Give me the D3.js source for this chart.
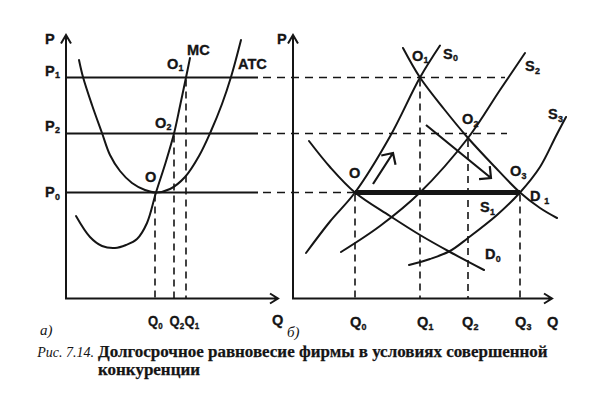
<!DOCTYPE html>
<html><head><meta charset="utf-8">
<script src="https://cdn.jsdelivr.net/npm/d3@7"></script>
<style>body{margin:0;background:#fff}svg{display:block}</style>
</head><body>
<svg id="c" width="600" height="406"></svg>
<script>
// ---------- DATA (arbitrary units) ----------
// price levels shared by both panels: P0, P2, P1
const priceLevels = [10.6, 16.5, 22.1];
const priceSubs   = ["0", "2", "1"];
// left panel (firm): quantities Q0, Q2, Q1 and the price each dashed line rises to
const firmQ      = [8.9, 10.8, 12.0];
const firmQSubs  = ["0", "2", "1"];
const firmQTop   = [10.6, 16.5, 22.1];
// MC curve
const mcQ = [1.0, 2.4, 3.6, 4.9, 6.0, 7.1, 8.1, 9.0, 9.95, 10.8, 11.4, 12.0, 12.4];
const mcP = [8.25, 6.15, 5.25, 5.05, 5.35, 5.95, 7.55, 10.6, 13.55, 16.5, 19.25, 22.1, 24.05];
// ATC curve
const atcQ = [1.3, 1.7, 2.6, 3.6, 4.4, 5.4, 6.6, 7.9, 9.0, 10.4, 11.9, 13.3, 14.5, 15.6, 16.5, 17.5];
const atcP = [23.85, 22.15, 19.35, 16.55, 14.35, 12.75, 11.55, 10.85, 10.6, 10.95, 12.15, 14.25, 16.75, 19.45, 22.15, 25.85];
// right panel (market): Q0, Q1, Q2, Q3 and the price each dashed line rises to
const marketQ     = [6.2, 12.7, 17.5, 22.7];
const marketQSubs = ["0", "1", "2", "3"];
const marketQTop  = [10.6, 22.1, 16.05, 10.6];
// where the dashed price lines end in the market panel (P0, P2, P1)
const priceDashEnd = [6.2, 21.4, 21.2];
// demand curves
const d0Q = [1.6, 3.7, 6.2, 9.7, 12.7, 15.7, 19.1];
const d0P = [15.75, 13.15, 10.6, 8.25, 6.35, 4.65, 2.85];
const d1Q = [11.0, 12.7, 15.1, 17.5, 20.1, 22.7, 24.7, 26.4];
const d1P = [25.05, 22.1, 18.95, 16.05, 13.25, 10.6, 9.05, 8.05];
// supply curves
const s0Q = [1.3, 3.7, 6.2, 9.7, 12.7, 14.7];
const s0P = [4.55, 7.7, 10.6, 16.2, 22.1, 25.3];
const s2Q = [4.8, 8.7, 12.7, 17.5, 20.7, 23.2];
const s2P = [4.65, 7.25, 10.6, 16.05, 20.85, 24.55];
const s3Q = [11.6, 13.7, 15.7, 17.5, 20.4, 22.7, 24.7, 26.3, 27.3];
const s3P = [3.35, 3.95, 4.75, 6.05, 8.35, 10.6, 13.15, 16.25, 18.15];
// long-run supply S1 (horizontal)
const lrsQ = [6.2, 22.7];
const lrsP = [10.6, 10.6];
// arrows (tail -> tip)
const arrowFromQ = [8.0, 13.3];
const arrowFromP = [11.45, 17.35];
const arrowToQ   = [10.0, 19.8];
const arrowToP   = [14.55, 12.05];

// ---------- SCALES ----------
const ink = "#151515";
const svg = d3.select("#c");
const yS = d3.scaleLinear().domain([0, 26.3]).range([298.5, 35.5]);
const xL = d3.scaleLinear().domain([0, 21.2]).range([66, 278]);
const xR = d3.scaleLinear().domain([0, 25.9]).range([293, 552]);

const sans = "'Liberation Sans', Arial, Helvetica, sans-serif";
const serif = "'Liberation Serif', 'DejaVu Serif', serif";

function zip(a, b) { return a.map((v, i) => [v, b[i]]); }
function curve(xs, data, w) {
  const line = d3.line().x(d => xs(d[0])).y(d => yS(d[1])).curve(d3.curveCatmullRom.alpha(0.5));
  svg.append("path").attr("d", line(data)).attr("fill", "none")
    .attr("stroke", ink).attr("stroke-width", w || 2).attr("stroke-linecap", "round");
}
function seg(x1, y1, x2, y2, w, dash) {
  const l = svg.append("line").attr("x1", x1).attr("y1", y1).attr("x2", x2).attr("y2", y2)
    .attr("stroke", ink).attr("stroke-width", w);
  if (dash) l.attr("stroke-dasharray", dash);
  return l;
}
function label(x, y, main, sub, opt) {
  opt = opt || {};
  const t = svg.append("text")
    .attr("transform", `translate(${x},${y}) scale(${opt.sx || 0.94},1)`)
    .style("font-family", sans).style("font-weight", "bold").style("font-size", (opt.fs || 15.5) + "px")
    .style("fill", ink).style("stroke", ink).style("stroke-width", 0.35);
  t.append("tspan").text(main);
  if (sub) t.append("tspan").attr("dx", opt.subdx || 0.3).attr("dy", 2.5)
    .style("font-size", "9.5px").text(sub);
  return t;
}

// ---------- AXES ----------
function axes(xs) {
  const x0 = xs(0), y0 = yS(0);
  const xe = xs.range()[1], ye = 35;
  svg.append("path").attr("d", `M${x0},${y0}V${ye}M${x0 - 5},${ye + 8.5}L${x0},${ye}L${x0 + 5},${ye + 8.5}`)
    .attr("fill", "none").attr("stroke", ink).attr("stroke-width", 2).attr("stroke-linejoin", "miter");
  svg.append("path").attr("d", `M${x0 - 1},${y0}H${xe}M${xe - 8},${y0 - 5}L${xe},${y0}L${xe - 8},${y0 + 5}`)
    .attr("fill", "none").attr("stroke", ink).attr("stroke-width", 2);
}
axes(xL);
axes(xR);

// ---------- LEFT PANEL ----------
priceLevels.forEach((p, i) => {
  seg(xL(0), yS(p), xL(19.2), yS(p), 2);
  seg(xL(19.7), yS(p), xR(priceDashEnd[i]), yS(p), 1.6, "8,6");
});
firmQ.forEach((q, i) => seg(xL(q), yS(firmQTop[i]) + 2, xL(q), yS(0), 1.6, "7,5"));
curve(xL, zip(mcQ, mcP));
curve(xL, zip(atcQ, atcP));

// ---------- RIGHT PANEL ----------
marketQ.forEach((q, i) => seg(xR(q), yS(marketQTop[i]) + 2, xR(q), yS(0), 1.6, "7,5"));
curve(xR, zip(d0Q, d0P));
curve(xR, zip(d1Q, d1P));
curve(xR, zip(s0Q, s0P));
curve(xR, zip(s2Q, s2P));
curve(xR, zip(s3Q, s3P));
seg(xR(lrsQ[0]), yS(lrsP[0]), xR(lrsQ[1]), yS(lrsP[1]), 5);

arrowFromQ.forEach((q, i) => {
  const x1 = xR(q), y1 = yS(arrowFromP[i]), x2 = xR(arrowToQ[i]), y2 = yS(arrowToP[i]);
  const a = Math.atan2(y1 - y2, x1 - x2), L = 12;
  const p1 = [x2 + L * Math.cos(a + Math.PI / 4), y2 + L * Math.sin(a + Math.PI / 4)];
  const p2 = [x2 + L * Math.cos(a - Math.PI / 4), y2 + L * Math.sin(a - Math.PI / 4)];
  svg.append("path").attr("d", `M${x1},${y1}L${x2},${y2}M${p1[0]},${p1[1]}L${x2},${y2}L${p2[0]},${p2[1]}`)
    .attr("fill", "none").attr("stroke", ink).attr("stroke-width", 2.2).attr("stroke-linejoin", "miter");
});

// ---------- LABELS ----------
// axis names
label(xL(0) - 21, 44, "P");
label(xR(0) - 16, 44, "P");
label(xL.range()[1] - 6, 325, "Q");
label(xR.range()[1] - 5, 327, "Q");
// price tick labels (left panel)
const pOff = [4.5, -3, -2];
priceLevels.forEach((p, i) => label(xL(0) - 21, yS(p) + pOff[i], "P", priceSubs[i]));
// quantity tick labels
const fqOff = [-7, -4.5, -1.5];
firmQ.forEach((q, i) => label(xL(q) + fqOff[i], 326, "Q", firmQSubs[i], {sx: 0.84}));
const mqOff = [-5, -3, -6, -5];
marketQ.forEach((q, i) => label(xR(q) + mqOff[i], 327, "Q", marketQSubs[i]));
// left panel annotations
label(xL(mcQ[12]) - 3, yS(mcP[12]) - 3, "MC");
label(xL(12.0) - 19, yS(22.1) - 9, "O", "1");
label(xL(atcQ[14]) + 7, yS(atcP[14]) - 8, "ATC");
label(xL(10.8) - 19, yS(16.5) - 6, "O", "2");
label(xL(9.0) - 11, yS(10.6) - 10.5, "O");
// right panel annotations
label(xR(12.7) - 8, yS(22.1) - 17, "O", "1");
label(xR(s0Q[5]) + 3, yS(s0P[5]) + 13, "S", "0");
label(xR(s2Q[5]) + 0, yS(s2P[5]) + 18, "S", "2");
label(xR(17.5) - 6, yS(16.05) - 14, "O", "2");
label(xR(s3Q[8]) - 18, yS(s3P[8]) + 2, "S", "3");
label(xR(22.7) - 10, yS(10.6) - 16.5, "O", "3");
label(xR(22.7) + 10, yS(10.6) + 8.5, "D", "1", {subdx: 4});
label(xR(22.7) - 40, yS(10.6) + 19.5, "S", "1");
label(xR(d0Q[6]) + 1, yS(d0P[6]) - 11, "D", "0");
label(xR(6.2) - 6, yS(10.6) - 14.5, "O");

// panel letters
svg.append("text").attr("x", 40).attr("y", 335).style("font-family", serif).style("font-style", "italic")
  .style("font-size", "15px").style("fill", ink).text("а)");
svg.append("text").attr("x", 287).attr("y", 337).style("font-family", serif).style("font-style", "italic")
  .style("font-size", "15px").style("fill", ink).text("б)");

// ---------- CAPTION ----------
svg.append("text").attr("x", 94).attr("y", 356.5).attr("text-anchor", "end")
  .style("font-family", serif).style("font-style", "italic").style("font-size", "14px")
  .style("fill", ink).text("Рис. 7.14.");
const t2 = svg.append("text").attr("x", 98).attr("y", 356.5)
  .style("font-family", serif).style("font-weight", "bold").style("font-size", "15px")
  .style("fill", ink).style("stroke", ink).style("stroke-width", 0.25)
  .text("Долгосрочное равновесие фирмы в условиях совершенной");
const w2 = t2.node().getComputedTextLength();
const fs2 = 15 * 450 / w2;
t2.style("font-size", fs2 + "px");
svg.append("text").attr("x", 98).attr("y", 374.5).style("font-family", serif).style("font-weight", "bold")
  .style("font-size", fs2 + "px").style("fill", ink).style("stroke", ink).style("stroke-width", 0.25)
  .text("конкуренции");
</script>
</body></html>
